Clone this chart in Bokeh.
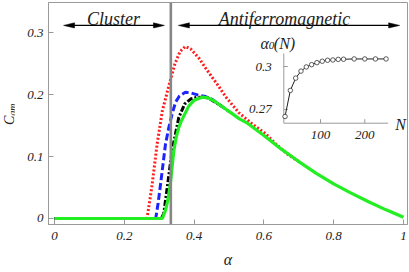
import numpy as np
from bokeh.plotting import figure
from bokeh.models import Range1d, Span, Label, FixedTicker, Div
from bokeh.layouts import row
from bokeh.core.properties import value
from bokeh.embed import file_html
from bokeh.resources import INLINE

# ---------------- data ----------------
green_alpha = [0.0, 0.309, 0.318, 0.325, 0.332, 0.337, 0.342, 0.349, 0.356, 0.363, 0.370, 0.385,
               0.40, 0.423, 0.44, 0.46, 0.48, 0.50, 0.53, 0.55, 0.60, 0.65, 0.70, 0.75, 0.80,
               0.85, 0.90, 0.95, 1.0]
green_c = [0.0, 0.0, 0.013, 0.030, 0.056, 0.083, 0.110, 0.132, 0.147, 0.157, 0.165, 0.182,
           0.191, 0.196, 0.195, 0.189, 0.181, 0.173, 0.161, 0.155, 0.134, 0.112, 0.092, 0.073, 0.056,
           0.041, 0.027, 0.014, 0.002]

red_alpha = [0.0, 0.265, 0.272, 0.28, 0.294, 0.309, 0.328, 0.345, 0.36, 0.375, 0.39, 0.414,
             0.433, 0.452, 0.47, 0.49, 0.528, 0.566, 0.605, 0.633, 0.67, 0.70]
red_c = [0.0, 0.0, 0.025, 0.056, 0.12, 0.174, 0.215, 0.250, 0.270, 0.278, 0.274, 0.259,
         0.243, 0.228, 0.214, 0.197, 0.171, 0.153, 0.137, 0.121, 0.103, 0.092]

blue_alpha = [0.0, 0.29, 0.297, 0.304, 0.318, 0.328, 0.337, 0.347, 0.358, 0.375, 0.39, 0.414,
              0.433, 0.45, 0.50]
blue_c = [0.0, 0.0, 0.025, 0.056, 0.12, 0.148, 0.169, 0.188, 0.198, 0.204, 0.203, 0.199,
          0.197, 0.193, 0.173]

black_alpha = [0.0, 0.306, 0.313, 0.323, 0.337, 0.356, 0.373, 0.39, 0.41, 0.44, 0.48]
black_c = [0.0, 0.0, 0.008, 0.05, 0.11, 0.163, 0.185, 0.193, 0.196, 0.195, 0.181]

inset_N = [20, 32, 44, 56, 68, 80, 92, 104, 116, 128, 140, 152, 176, 200, 224, 248]
inset_alpha0 = [0.2651, 0.2833, 0.2919, 0.2968, 0.2997, 0.3013, 0.3027, 0.3037, 0.3044,
                0.3046, 0.3050, 0.3051, 0.3053, 0.3053, 0.3053, 0.3053]

x_ticks = [0, 0.2, 0.4, 0.6, 0.8, 1.0]
x_tick_labels = ["0", "0.2", "0.4", "0.6", "0.8", "1"]
y_ticks = [0, 0.1, 0.2, 0.3]
y_tick_labels = ["0", "0.1", "0.2", "0.3"]
inset_x_ticks = [100, 200]
inset_x_tick_labels = ["100", "200"]
inset_y_ticks = [0.27, 0.30]
inset_y_tick_labels = ["0.27", "0.3"]

boundary = 1.0 / 3.0
regions = ["Cluster", "Antiferromagnetic"]
region_arrows = [(0.026, 0.315), (0.355, 0.989)]
region_text_x = [0.169, 0.659]

# ---------------- geometry (page origin = top-left of figure row) ----------------
DIVW = 14
W, H = 408 - DIVW, 272
BL, BR, BT, BB = 34, 1, 2, 48
FW, FH = W - BL - BR, H - BT - BB
FX0, FY0 = DIVW + BL, BT

xr0, xr1 = -0.0172, 1.0115
yr0, yr1 = -0.0097, 0.349

def px_x(px):
    return xr0 + (px - FX0) / FW * (xr1 - xr0)

def px_y(py):
    return yr1 - (py - FY0) / FH * (yr1 - yr0)

SERIF = "Liberation Serif"
TXT = "#222222"
GRAY = "#9a9a9a"

p = figure(width=W, height=H, x_range=Range1d(xr0, xr1), y_range=Range1d(yr0, yr1),
           output_backend="svg", toolbar_location=None, margin=0,
           min_border_left=BL, min_border_right=BR, min_border_top=BT, min_border_bottom=BB)
p.grid.visible = False
p.outline_line_color = GRAY
p.outline_line_width = 1
p.background_fill_color = "white"
p.border_fill_color = "white"

for ax, ticks, labels in ((p.xaxis[0], x_ticks, x_tick_labels), (p.yaxis[0], y_ticks, y_tick_labels)):
    ax.ticker = FixedTicker(ticks=ticks)
    ax.major_label_overrides = {t: l for t, l in zip(ticks, labels)}
    ax.axis_line_color = GRAY
    ax.major_tick_line_color = GRAY
    ax.major_tick_in = 5
    ax.major_tick_out = 0
    ax.minor_tick_line_color = None
    ax.major_label_text_font = SERIF
    ax.major_label_text_font_style = "italic"
    ax.major_label_text_font_size = "13px"
    ax.major_label_text_color = TXT
p.xaxis[0].major_label_standoff = 7
p.yaxis[0].major_label_standoff = 5
p.xaxis[0].axis_label = "α"
p.xaxis[0].axis_label_text_font = SERIF
p.xaxis[0].axis_label_text_font_style = "italic"
p.xaxis[0].axis_label_text_font_size = "16px"
p.xaxis[0].axis_label_text_color = TXT
p.xaxis[0].axis_label_standoff = 8

# boundary line
p.add_layout(Span(location=boundary, dimension="height", line_color="#878787", line_width=2.6))

# curves (green last, on top)
p.line(red_alpha, red_c, line_color="#ff1c1c", line_width=3, line_dash="2 2")
p.line(blue_alpha, blue_c, line_color="#1f24ff", line_width=3, line_dash="7 3")
p.line(black_alpha, black_c, line_color="black", line_width=3, line_dash="6 2 2 2")
p.line(green_alpha, green_c, line_color="#22ee22", line_width=3.2)

# region arrows and texts
arrow_y = 0.312
L_px, HW_px = 11.0, 2.6
dx = L_px * (xr1 - xr0) / FW
dy = HW_px * (yr1 - yr0) / FH
xs, ys = [], []
for (a, b) in region_arrows:
    xs.append([a, a + dx, a + dx]); ys.append([arrow_y, arrow_y + dy, arrow_y - dy])
    xs.append([b, b - dx, b - dx]); ys.append([arrow_y, arrow_y + dy, arrow_y - dy])
p.segment(x0=[a + dx * 0.5 for a, b in region_arrows], y0=[arrow_y] * 2,
          x1=[b - dx * 0.5 for a, b in region_arrows], y1=[arrow_y] * 2,
          line_color="black", line_width=1.3)
p.patches(xs, ys, fill_color="black", line_color="black", line_width=0.5)
p.text(x=region_text_x, y=[0.323] * 2, text=regions, text_font=value(SERIF),
       text_font_style="italic", text_font_size="18px", text_align="center",
       text_baseline="middle", text_color=TXT)

# ---------------- inset via extra ranges ----------------
NL, NR = 17.2, 252.8
AB, AT = 0.2604, 0.3091
in_left, in_right = 283.3 - FX0, 387.7 - FX0   # frame px
in_top, in_bottom = 53.0 - FY0, 122.7 - FY0     # frame px from top
sx = (in_right - in_left) / (NR - NL)
sy = (in_bottom - in_top) / (AT - AB)
p.extra_x_ranges = {"inx": Range1d(NL - in_left / sx, NL + (FW - in_left) / sx)}
p.extra_y_ranges = {"iny": Range1d(AB - (FH - in_bottom) / sy, AT + in_top / sy)}
R = dict(x_range_name="inx", y_range_name="iny")

p.segment(x0=[NL, NL], y0=[AB, AB], x1=[NR, NL], y1=[AB, AT], line_color=GRAY, line_width=1, **R)
tk = 4.0
p.segment(x0=[NL] * len(inset_y_ticks), y0=inset_y_ticks,
          x1=[NL + tk / sx] * len(inset_y_ticks), y1=inset_y_ticks, line_color=GRAY, **R)
p.segment(x0=inset_x_ticks, y0=[AB] * len(inset_x_ticks),
          x1=inset_x_ticks, y1=[AB + tk / sy] * len(inset_x_ticks), line_color=GRAY, **R)
p.text(x=[NL] * len(inset_y_ticks), y=inset_y_ticks, text=inset_y_tick_labels, x_offset=-12,
       text_align="right", text_baseline="middle", text_font=value(SERIF),
       text_font_style="italic", text_font_size="13px", text_color=TXT, **R)
p.text(x=inset_x_ticks, y=[AB] * len(inset_x_ticks), text=inset_x_tick_labels, y_offset=8,
       text_align="center", text_baseline="top", text_font=value(SERIF),
       text_font_style="italic", text_font_size="13px", text_color=TXT, **R)

p.line(inset_N, inset_alpha0, line_color="#222222", line_width=1, **R)
p.scatter(inset_N, inset_alpha0, marker="circle", size=4.5, line_color="#333333",
          fill_color="white", line_width=0.8, **R)

# ---------------- free labels inside the frame ----------------
def lab(text, px, py, size, align="left", baseline="alphabetic", angle=0.0):
    p.add_layout(Label(x=px_x(px), y=px_y(py), text=text, text_font=SERIF,
                       text_font_style="italic", text_font_size=size, text_color=TXT,
                       text_align=align, text_baseline=baseline, angle=angle))

lab("α", 260.0, 42.5, "16px")
lab("0", 268.3, 45.0, "11px")
lab("(N)", 273.3, 42.5, "16px")
lab("N", 400.0, 124.0, "16px", align="center", baseline="middle")

# ---------------- y-axis title C_gm (rotated HTML text) ----------------
ylab_html = (
    '<div style="position:relative; width:0; height:0; left:3px; top:113px;">'
    '<div style="position:absolute; left:0; top:0; transform: rotate(-90deg); '
    'transform-origin: 0 0; white-space: nowrap; font-family: \'Liberation Serif\'; '
    'font-style: italic; font-size: 14px; line-height: 14px; color: #222222;">'
    'C<span style="font-size:10px; position:relative; top:2px;">gm</span></div></div>'
)
ylab = Div(text=ylab_html, width=DIVW, height=H, margin=0)

layout = row(ylab, p, spacing=0)
open("out.html", "w").write(file_html(layout, INLINE))
